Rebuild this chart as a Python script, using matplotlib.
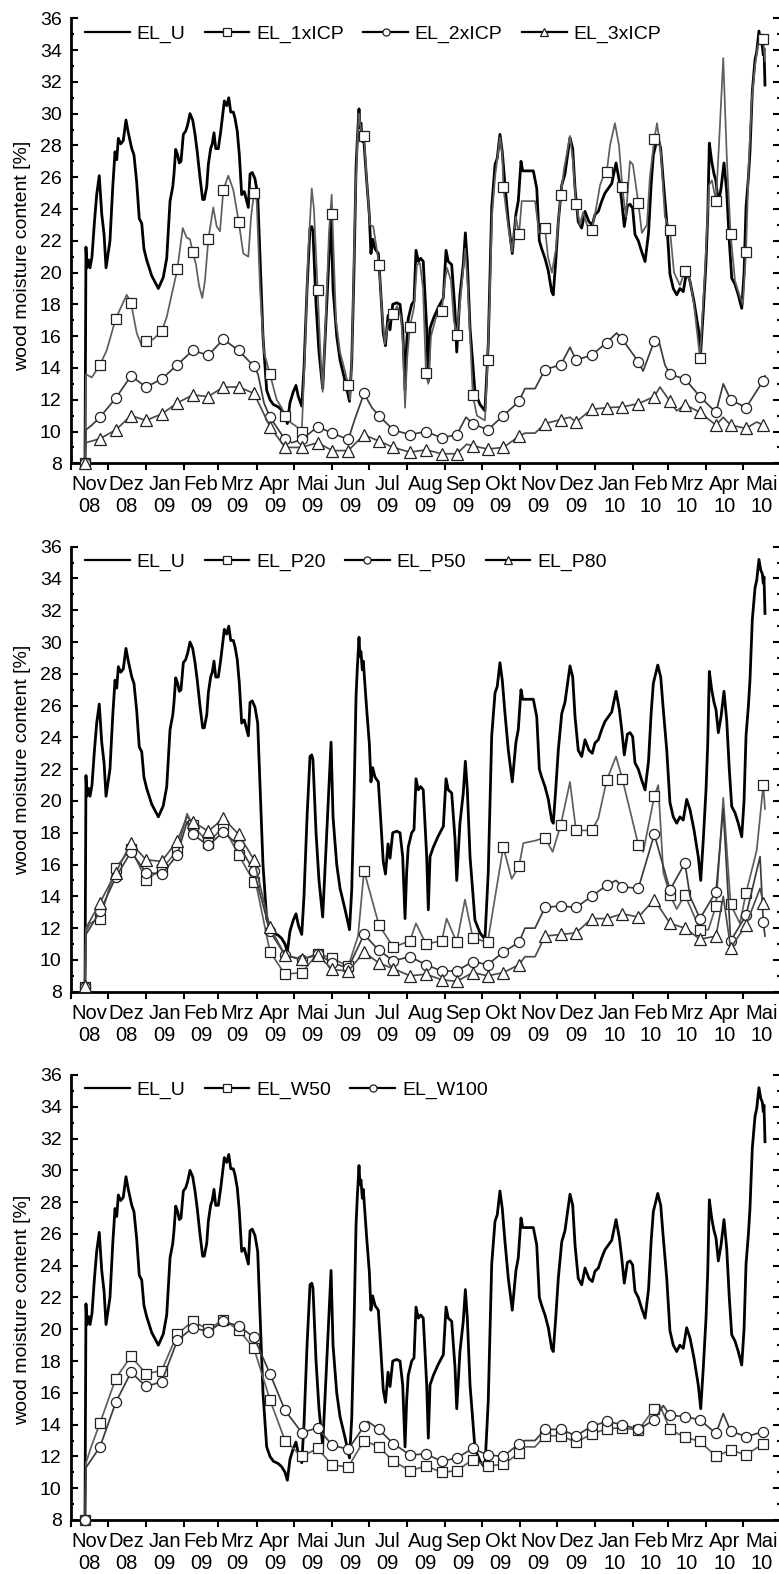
import datetime as dt
import numpy as np
import matplotlib
matplotlib.use("Agg")
import matplotlib.pyplot as plt
from matplotlib.ticker import FixedLocator, MultipleLocator, NullFormatter, FixedFormatter

plt.rcParams['font.family'] = ['Liberation Sans', 'DejaVu Sans']

# ---------------- data ----------------
MONTHS = ["Nov", "Dez", "Jan", "Feb", "Mrz", "Apr", "Mai", "Jun", "Jul", "Aug",
          "Sep", "Okt", "Nov", "Dez", "Jan", "Feb", "Mrz", "Apr", "Mai"]
YEARS = ["08", "08", "09", "09", "09", "09", "09", "09", "09", "09",
         "09", "09", "09", "09", "10", "10", "10", "10", "10"]
Y_TICKS = [8, 10, 12, 14, 16, 18, 20, 22, 24, 26, 28, 30, 32, 34, 36]

# days since 2008-11-01 at which the symbols are drawn (same for every series)
MARK_DAYS = [11.6, 23.8, 36.6, 49.0, 61.2, 73.9, 86.6, 99.1, 111.8, 124.0, 136.5,
             148.9, 161.9, 174.1, 187.7, 200.6, 212.5, 225.5, 238.3, 250.4, 262.1,
             275.6, 288.6, 301.4, 313.6, 326.6, 338.7, 351.4, 364.2, 385.3, 398.1,
             410.5, 423.2, 435.4, 448.1, 461.1, 474.1, 486.8, 499.0, 511.2, 524.2,
             536.1, 548.6, 562.6]

# EL_U (untreated reference), (day, value)
EL_U = [(11.6, 8.0), (12.4, 21.6), (13.2, 20.3), (14.5, 20.8), (15.7, 20.3), (17.3, 21.0),
        (19.2, 23.1), (21.1, 24.9), (23.2, 26.1), (25.2, 23.7), (27.1, 22.4), (28.7, 20.3),
        (31.9, 22.0), (34.1, 25.3), (36.0, 27.6), (37.4, 27.1), (38.7, 28.45), (40.6, 28.1),
        (42.7, 28.3), (44.9, 29.6), (46.8, 28.8), (49.6, 27.8), (51.4, 27.4), (53.6, 25.7),
        (55.7, 23.4), (57.7, 23.1), (59.5, 21.5), (61.7, 20.8), (65.8, 19.8), (71.2, 19.0),
        (75.2, 19.7), (78.0, 20.9), (80.7, 24.5), (82.9, 25.4), (83.9, 26.2), (85.3, 27.75),
        (86.9, 27.4), (88.2, 26.9), (89.6, 27.0), (91.5, 28.7), (93.4, 28.9), (95.0, 29.3),
        (96.9, 30.0), (99.1, 29.6), (101.0, 28.7), (102.8, 27.6), (105.0, 26.0), (107.2, 24.6),
        (108.5, 24.6), (110.5, 25.4), (111.8, 26.8), (113.7, 27.8), (115.0, 28.1), (116.4, 28.8),
        (117.8, 27.8), (119.9, 27.8), (121.9, 28.9), (123.5, 29.95), (124.8, 30.8), (126.7, 30.5),
        (128.4, 31.0), (130.0, 30.1), (132.1, 30.1), (133.5, 29.7), (135.3, 28.9), (137.0, 27.4),
        (138.9, 24.9), (141.0, 25.1), (143.0, 24.5), (144.3, 24.1), (145.7, 26.2), (147.5, 26.3),
        (149.7, 25.9), (151.9, 24.9), (153.8, 21.0), (156.2, 16.0), (159.2, 12.6), (161.9, 12.0),
        (164.6, 11.7), (168.6, 11.55), (171.4, 11.35), (174.1, 11.0), (176.0, 10.5), (178.1, 11.8),
        (180.8, 12.5), (183.0, 12.9), (184.9, 12.2), (187.7, 11.6), (189.5, 14.0), (192.0, 19.0),
        (194.4, 22.8), (195.8, 22.9), (196.8, 22.6), (199.3, 18.0), (201.7, 15.0), (204.7, 12.7),
        (207.4, 17.0), (209.8, 21.0), (211.5, 23.7), (213.1, 19.0), (216.1, 16.0), (218.8, 14.5),
        (222.8, 13.2), (226.5, 11.9), (228.3, 14.4), (230.1, 20.0), (231.8, 26.6), (232.8, 28.3),
        (234.2, 30.3), (235.0, 29.1), (235.8, 29.4), (236.9, 28.25), (237.7, 28.8), (239.1, 27.2),
        (240.5, 25.7), (242.6, 23.6), (243.9, 21.2), (245.3, 22.1), (247.2, 21.5), (249.9, 21.2),
        (251.3, 19.5), (253.9, 16.2), (255.7, 15.4), (257.8, 17.3), (259.4, 16.4), (261.6, 18.0),
        (264.8, 18.1), (267.5, 18.0), (269.7, 16.5), (271.6, 12.6), (272.9, 15.5), (274.2, 17.1),
        (277.0, 18.0), (278.9, 18.2), (280.5, 21.4), (282.4, 20.7), (284.3, 20.9), (286.4, 20.7),
        (289.2, 16.5), (290.5, 13.15), (291.9, 16.5), (294.6, 17.1), (298.6, 17.8), (302.7, 18.4),
        (304.9, 21.4), (306.7, 20.7), (309.5, 20.5), (312.2, 17.6), (313.6, 15.0), (316.2, 18.6),
        (318.9, 20.5), (320.6, 22.5), (322.2, 20.7), (324.4, 16.5), (328.4, 12.5), (332.5, 11.7),
        (336.5, 11.3), (339.2, 15.5), (340.6, 19.7), (342.0, 24.1), (344.7, 26.8), (346.5, 27.2),
        (348.7, 28.7), (350.6, 27.6), (352.8, 25.5), (355.5, 23.2), (358.7, 21.2), (361.7, 23.7),
        (363.6, 24.5), (365.8, 27.0), (367.2, 26.4), (375.8, 26.4), (378.6, 25.3), (380.7, 22.0),
        (382.6, 21.5), (385.3, 20.9), (388.0, 20.1), (390.7, 18.8), (392.0, 18.6), (394.0, 20.7),
        (396.1, 23.2), (398.9, 25.5), (401.5, 26.2), (405.6, 28.5), (407.8, 27.8), (409.7, 25.3),
        (412.3, 23.2), (415.1, 22.8), (417.8, 23.85), (421.0, 23.2), (423.7, 23.0), (425.9, 23.65),
        (428.6, 23.85), (431.4, 24.5), (434.0, 25.0), (436.7, 25.3), (439.5, 25.6), (443.0, 26.9),
        (445.7, 25.75), (447.6, 24.5), (449.7, 22.9), (452.2, 24.2), (454.4, 24.3), (456.5, 24.05),
        (458.4, 22.4), (461.1, 22.0), (463.9, 21.3), (466.6, 20.7), (469.4, 22.5), (471.5, 25.5),
        (473.3, 27.4), (476.9, 28.55), (479.3, 27.8), (481.4, 25.75), (484.2, 23.2), (486.8, 19.9),
        (489.5, 19.0), (492.3, 18.6), (494.9, 19.0), (497.6, 18.8), (500.4, 20.1), (503.1, 19.45),
        (506.3, 18.2), (509.8, 16.5), (511.8, 15.0), (513.9, 17.6), (516.1, 20.7), (517.5, 23.6),
        (518.8, 28.15), (520.7, 27.0), (522.6, 26.2), (524.2, 25.75), (526.1, 24.3), (528.3, 25.3),
        (530.7, 26.9), (532.9, 25.1), (535.0, 22.0), (537.0, 19.65), (539.7, 19.25), (542.3, 18.6),
        (545.1, 17.75), (547.0, 20.0), (548.6, 24.1), (550.5, 25.95), (551.8, 27.6), (553.7, 31.4),
        (555.9, 33.4), (557.3, 33.9), (559.1, 35.2), (560.5, 34.55), (561.8, 34.3), (562.6, 33.7),
        (563.2, 34.1), (564.0, 31.8)]

# ---- panel 1 ----
ICP1_MARK = [8.0, 14.2, 17.1, 18.1, 15.7, 16.3, 20.2, 21.3, 22.1, 25.2, 23.2, 25.0, 13.6, 11.0,
             10.0, 18.9, 23.7, 12.9, 28.6, 20.5, 17.4, 16.6, 13.7, 17.6, 16.1, 12.3, 14.5, 25.4,
             22.4, 22.8, 24.9, 24.3, 22.7, 26.3, 25.4, 24.4, 28.4, 22.7, 20.1, 14.6, 24.5, 22.4,
             21.3, 34.7]
ICP1_LINE = [(12.4, 13.6), (17.1, 13.4), (29.2, 15.1), (45.5, 18.6), (53.6, 16.2), (57.7, 15.4),
             (66.9, 15.8), (78.0, 17.2), (82.0, 18.6), (91.0, 22.8), (94.2, 22.2), (96.9, 22.1),
             (101.8, 20.5), (104.2, 19.2), (106.9, 18.4), (109.1, 19.5), (115.8, 24.1), (118.6, 22.9),
             (121.3, 22.6), (128.0, 26.1), (132.1, 25.2), (140.2, 21.2), (144.3, 21.0), (146.5, 23.5),
             (151.1, 24.5), (153.8, 19.0), (157.0, 15.0), (167.3, 12.0), (171.4, 11.5), (178.1, 10.6),
             (183.6, 10.3), (190.3, 15.0), (192.8, 21.0), (195.8, 25.3), (197.6, 24.0), (202.5, 15.5),
             (204.7, 12.5), (207.4, 17.5), (209.8, 22.5), (212.0, 24.9), (215.5, 17.0), (218.8, 15.0),
             (222.8, 13.8), (226.9, 12.0), (228.5, 15.0), (231.0, 24.0), (233.0, 28.5), (234.2, 30.0),
             (235.8, 29.0), (240.7, 25.5), (243.1, 23.0), (245.8, 22.9), (248.0, 21.8), (252.9, 17.5),
             (255.3, 15.5), (257.7, 16.8), (265.1, 17.9), (268.3, 17.2), (269.9, 15.5), (271.6, 11.5),
             (273.2, 14.5), (278.9, 17.8), (281.3, 20.5), (283.7, 20.6), (286.2, 19.0), (290.5, 13.0),
             (292.7, 16.0), (296.8, 17.2), (304.1, 19.5), (305.7, 20.3), (308.9, 19.5), (311.2, 17.0),
             (316.2, 18.0), (318.7, 20.0), (320.5, 21.5), (322.7, 19.0), (330.0, 11.0), (334.1, 10.8),
             (336.5, 10.7), (340.6, 19.0), (342.2, 23.5), (344.7, 26.0), (348.7, 28.5), (350.6, 27.5),
             (354.4, 23.5), (358.5, 21.3), (361.7, 23.5), (366.4, 24.5), (377.2, 24.5), (380.4, 22.5),
             (387.7, 21.0), (390.9, 20.0), (394.2, 21.5), (400.7, 26.5), (405.6, 28.6), (408.0, 27.0),
             (413.7, 23.0), (416.2, 23.8), (419.4, 23.0), (426.7, 24.0), (430.0, 25.5), (432.4, 26.0),
             (438.1, 28.0), (442.1, 29.4), (445.4, 28.0), (451.0, 23.5), (454.3, 27.0), (456.7, 26.8),
             (464.0, 22.5), (468.1, 23.0), (470.5, 26.0), (476.3, 29.4), (479.5, 27.5), (482.7, 23.5),
             (490.1, 20.0), (494.9, 19.2), (503.1, 19.5), (506.3, 18.0), (515.2, 20.0), (518.5, 25.5),
             (520.9, 25.8), (526.6, 28.0), (530.1, 33.5), (533.1, 27.0), (539.6, 19.5), (543.6, 18.5),
             (546.1, 18.0), (550.9, 27.0), (553.4, 31.0), (555.9, 33.0), (558.3, 34.3), (560.7, 35.0),
             (564.0, 33.3)]

ICP2_MARK = [8.0, 10.9, 12.1, 13.5, 12.8, 13.3, 14.2, 15.1, 14.8, 15.8, 15.1, 14.1, 10.9, 9.5,
             9.5, 10.3, 9.9, 9.5, 12.4, 11.0, 10.1, 9.8, 10.0, 9.6, 9.8, 10.5, 10.1, 11.0, 11.9,
             13.9, 14.2, 14.5, 14.8, 15.6, 15.8, 14.4, 15.7, 13.6, 13.3, 12.2, 11.2, 12.0, 11.5,
             13.2]
ICP2_LINE = [(12.4, 10.1), (17.1, 10.4), (152.2, 13.6), (157.0, 11.8), (179.8, 9.3),
             (230.9, 10.8), (244.7, 11.5), (321.1, 10.9), (369.0, 12.7), (377.2, 12.7),
             (405.6, 15.3), (443.5, 16.2), (465.0, 13.8), (477.5, 15.8), (482.7, 14.2),
             (530.1, 13.0), (564.0, 13.5)]

ICP3_MARK = [8.0, 9.55, 10.1, 11.0, 10.7, 11.1, 11.8, 12.3, 12.2, 12.8, 12.8, 12.4, 10.3, 9.0,
             9.0, 9.3, 8.8, 8.8, 9.8, 9.4, 9.0, 8.7, 8.85, 8.6, 8.6, 9.1, 8.9, 9.0, 9.7, 10.5,
             10.75, 10.6, 11.4, 11.5, 11.55, 11.75, 12.2, 11.9, 11.7, 11.2, 10.4, 10.4, 10.2,
             10.4]
ICP3_LINE = [(12.4, 9.3), (17.1, 9.4), (321.7, 9.2), (369.0, 9.9), (377.2, 9.9), (405.6, 10.9),
             (478.7, 12.8), (492.3, 11.3), (530.1, 10.9), (557.3, 10.6), (564.0, 10.5)]

# ---- panel 2 ----
P20_MARK = [8.3, 12.6, 15.8, 17.0, 15.05, 15.7, 16.9, 18.5, 17.35, 18.4, 16.6, 14.9, 10.5, 9.1,
            9.2, 10.4, 10.1, 9.6, 15.6, 12.2, 10.8, 11.2, 11.0, 11.2, 11.1, 11.4, 11.1, 17.1, 15.9,
            17.7, 18.5, 18.15, 18.15, 21.3, 21.4, 17.25, 20.3, 14.1, 14.1, 11.9, 13.4, 13.5, 14.2,
            21.0]
P20_LINE = [(12.4, 11.8), (15.7, 12.3), (94.5, 19.2), (151.3, 14.5), (233.4, 11.5), (280.5, 12.3),
            (305.4, 12.6), (320.3, 13.8), (358.2, 15.1), (367.7, 17.35), (377.2, 17.5),
            (391.5, 16.8), (405.6, 21.2), (428.6, 18.9), (443.0, 22.8), (465.1, 16.8),
            (477.3, 21.0), (481.4, 15.5), (492.3, 13.2), (518.0, 11.9), (530.1, 20.2),
            (543.6, 12.3), (557.3, 16.9), (564.0, 19.5)]

P50_MARK = [8.3, 13.05, 15.2, 16.8, 15.5, 15.4, 16.6, 17.9, 17.2, 18.05, 17.2, 15.6, 11.8, 10.3,
            10.0, 10.4, 9.8, 9.5, 11.6, 10.6, 9.95, 10.2, 9.7, 9.3, 9.3, 9.9, 9.7, 10.5, 11.1, 13.3,
            13.4, 13.3, 14.0, 14.7, 14.6, 14.5, 17.9, 14.4, 16.1, 12.6, 14.3, 11.2, 12.8, 12.4]
P50_LINE = [(12.4, 11.6), (94.5, 18.7), (369.0, 12.0), (377.2, 12.0), (443.0, 15.0),
            (503.1, 14.0), (530.1, 19.5), (560.0, 16.5), (564.0, 11.5)]

P80_MARK = [8.33, 13.6, 15.5, 17.35, 16.3, 16.2, 17.5, 18.7, 18.1, 18.9, 17.9, 16.3, 12.05, 10.3,
            10.05, 10.3, 9.4, 9.3, 10.5, 9.8, 9.45, 9.0, 9.1, 8.75, 8.65, 9.2, 9.0, 9.2, 9.7, 11.5,
            11.6, 11.7, 12.6, 12.6, 12.9, 12.7, 13.8, 12.3, 12.0, 11.3, 11.5, 10.75, 12.2, 13.6]
P80_LINE = [(12.4, 12.0), (94.5, 19.0), (369.0, 10.2), (377.2, 10.2), (530.1, 14.0),
            (560.0, 14.5)]

# ---- panel 3 ----
W50_MARK = [8.0, 14.1, 16.9, 18.3, 17.2, 17.4, 19.7, 20.5, 20.0, 20.6, 19.95, 18.8, 15.55, 13.0,
            12.0, 12.5, 11.45, 11.35, 13.0, 12.6, 11.7, 11.1, 11.4, 11.0, 11.1, 11.8, 11.4, 11.5,
            12.2, 13.3, 13.3, 12.9, 13.4, 13.75, 13.8, 13.65, 15.0, 13.7, 13.2, 12.95, 12.0, 12.4,
            12.1, 12.8]
W50_LINE = [(12.4, 11.6), (17.1, 12.7), (369.0, 12.6), (377.2, 12.6), (478.7, 15.2)]

W100_MARK = [8.0, 12.6, 15.4, 17.3, 16.4, 16.7, 19.3, 20.1, 19.85, 20.5, 20.2, 19.5, 17.2, 14.9,
             13.5, 13.8, 12.7, 12.45, 13.9, 13.7, 12.8, 12.1, 12.15, 11.7, 11.9, 12.5, 12.1, 12.0,
             12.8, 13.7, 13.7, 13.3, 13.9, 14.2, 14.0, 13.7, 14.3, 14.6, 14.5, 14.3, 13.45, 13.6,
             13.25, 13.55]
W100_LINE = [(12.4, 11.3), (241.5, 14.2), (369.0, 13.0), (377.2, 13.0), (481.4, 15.2),
             (530.1, 14.7)]

PANELS = [
    [("EL_1xICP", ICP1_MARK, ICP1_LINE, "s"), ("EL_2xICP", ICP2_MARK, ICP2_LINE, "o"),
     ("EL_3xICP", ICP3_MARK, ICP3_LINE, "^")],
    [("EL_P20", P20_MARK, P20_LINE, "s"), ("EL_P50", P50_MARK, P50_LINE, "o"),
     ("EL_P80", P80_MARK, P80_LINE, "^")],
    [("EL_W50", W50_MARK, W50_LINE, "s"), ("EL_W100", W100_MARK, W100_LINE, "o")],
]

# ---------------- styles / layout ----------------
LINE_COL = {"s": "#5e5e5e", "o": "#3c3c3c", "^": "#4c4c4c"}
BOTTOMS = [0.70565, 0.36995, 0.03431]
YLABEL_Y = [0.467, 0.521, 0.472]
W_FIG, H_FIG = 779, 1574
LEFT_PX, RIGHT_PX, AX_H_PX = 70.7, 780.0, 445.0
X_END = 576.2

BASE = dt.date(2008, 11, 1)
starts = []
y, m = 2008, 11
for _ in range(20):
    starts.append((dt.date(y, m, 1) - BASE).days)
    m += 1
    if m > 12:
        m, y = 1, y + 1
centers = [(starts[i] + starts[i + 1]) / 2 for i in range(19)]
xlabels = [f"{a}\n{b}" for a, b in zip(MONTHS, YEARS)]

u_days, u_vals = np.array(EL_U).T


def build(mvals, extra):
    ex = np.array(extra)
    x = np.concatenate([MARK_DAYS, ex[:, 0]])
    yv = np.concatenate([mvals, ex[:, 1]])
    flag = np.concatenate([np.ones(len(MARK_DAYS), bool), np.zeros(len(ex), bool)])
    o = np.argsort(x, kind="stable")
    return x[o], yv[o], list(np.where(flag[o])[0])


fig = plt.figure(figsize=(W_FIG / 100, H_FIG / 100), dpi=100)

for pi, series in enumerate(PANELS):
    ax = fig.add_axes([LEFT_PX / W_FIG, BOTTOMS[pi], (RIGHT_PX - LEFT_PX) / W_FIG, AX_H_PX / H_FIG])
    ax.plot(u_days, u_vals, color="black", lw=2.0, label="EL_U", zorder=2, clip_on=False,
            solid_joinstyle="round")
    for name, mv, ln, mk in series:
        x, yv, idx = build(mv, ln)
        ax.plot(x, yv, color=LINE_COL[mk], lw=1.25, marker=mk, markevery=idx,
                ms=8 if mk == "^" else 7.3, mfc="white", mec="#202020", mew=0.9,
                label=name, zorder=3, clip_on=False)

    ax.set_xlim(0, X_END)
    ax.set_ylim(8, 36)
    for s in ("top", "right"):
        ax.spines[s].set_visible(False)
    for s in ("left", "bottom"):
        ax.spines[s].set_linewidth(2.0)

    ax.yaxis.set_major_locator(FixedLocator(Y_TICKS))
    ax.yaxis.set_minor_locator(MultipleLocator(1))
    ax.tick_params(axis="y", which="major", direction="in", length=5, width=1.5,
                   left=True, right=True, labelsize=14, pad=6.5)
    ax.tick_params(axis="y", which="minor", direction="in", length=2.5, width=1.5,
                   left=True, right=True)

    ax.xaxis.set_major_locator(FixedLocator(starts[:19]))
    ax.xaxis.set_major_formatter(NullFormatter())
    ax.xaxis.set_minor_locator(FixedLocator(centers))
    ax.xaxis.set_minor_formatter(FixedFormatter(xlabels))
    ax.tick_params(axis="x", which="major", direction="out", length=5, width=1.5)
    ax.tick_params(axis="x", which="minor", length=0, labelsize=14.5, pad=8.5)
    for lbl in ax.get_xticklabels(minor=True):
        lbl.set_linespacing(1.2)

    ax.set_ylabel("wood moisture content [%]", fontsize=14)
    ax.yaxis.set_label_coords(-0.056, YLABEL_Y[pi])

    leg = ax.legend(loc="upper left", bbox_to_anchor=(0.02, 0.985), ncol=len(series) + 1,
                    frameon=False, fontsize=14, handlelength=2.3, handletextpad=0.35,
                    columnspacing=1.0, borderaxespad=0, borderpad=0, markerscale=0.7)
    for h in leg.legend_handles:
        h.set_color("black")
        h.set_linewidth(1.6)

fig.savefig("out.png", dpi=100)
